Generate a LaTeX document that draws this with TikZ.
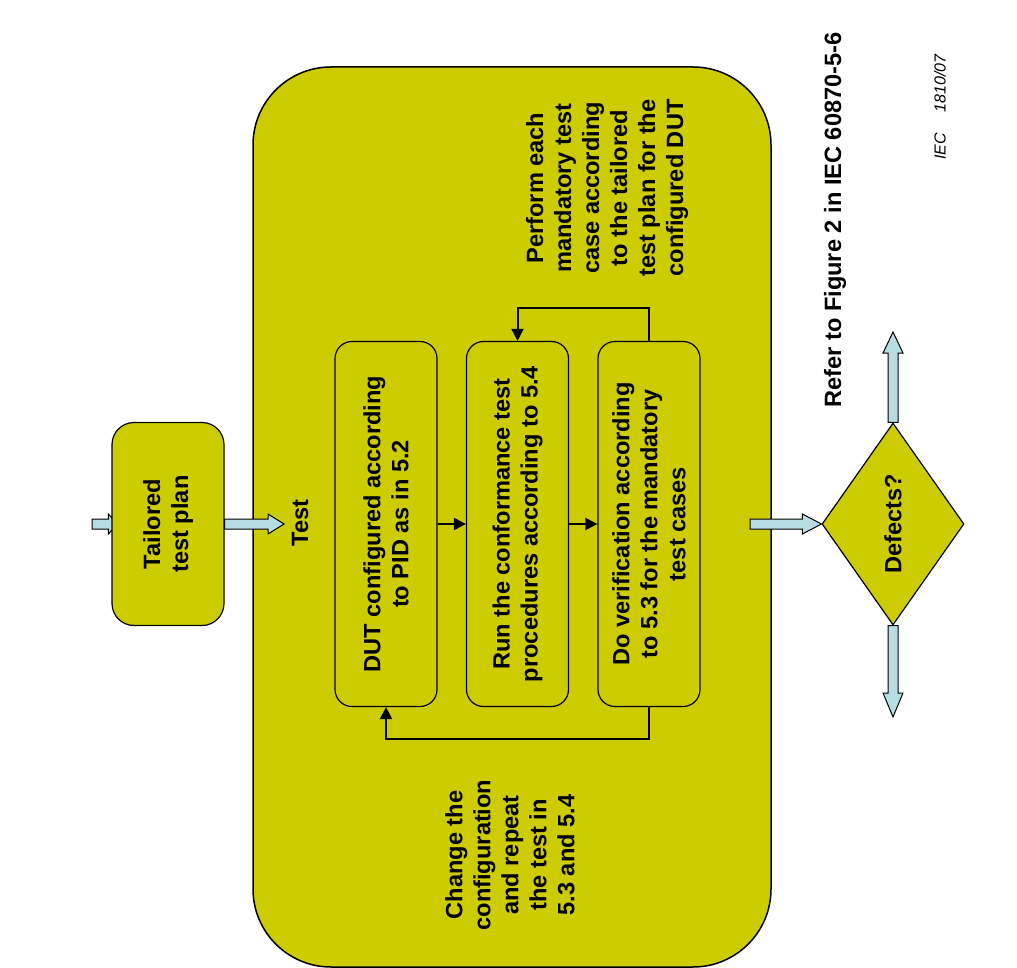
\documentclass[tikz,border=0pt]{standalone}
\usepackage{fontspec}
\setmainfont{Liberation Sans}
\usetikzlibrary{shapes.geometric, arrows.meta, calc, backgrounds}

\definecolor{testolive}{RGB}{204,204,0}
\definecolor{arrowblue}{RGB}{183,221,227}
\newcommand{\diagfont}{\fontsize{23.6}{28}\selectfont\bfseries}

\tikzset{
  bigbox/.style={draw, line width=1.5pt, fill=testolive, rounded corners=78pt},
  stepbox/.style={draw, line width=1.2pt, fill=testolive, rounded corners=17pt, rotate=90,
    align=center, font=\diagfont, minimum width=365pt, minimum height=102pt},
  vtext/.style={rotate=90, align=center, font=\diagfont},
  blockarrow/.style={draw=black, line width=1pt, fill=arrowblue},
  flow/.style={line width=2pt, -{Triangle[length=12pt,width=12pt]}},
}

% wide light blue arrow: start, end, head length
\newcommand{\blockarrow}[3]{%
  \path let \p1=#1, \p2=#2,
    \n1={atan2((\y2)-(\y1),(\x2)-(\x1))}, \n2={veclen((\x2)-(\x1),(\y2)-(\y1))} in
    \pgfextra{\xdef\bax{\x1}\xdef\bay{\y1}\xdef\baang{\n1}\xdef\balen{\n2}};
  \draw[blockarrow, shift={(\bax,\bay)}, rotate=\baang]
    (0pt,-5pt) -- (\balen-#3pt,-5pt) -- (\balen-#3pt,-10pt) -- (\balen,0pt)
    -- (\balen-#3pt,10pt) -- (\balen-#3pt,5pt) -- (0pt,5pt) -- cycle;}

\begin{document}
\begin{tikzpicture}[x=1pt, y=-1pt]
  \useasboundingbox (0,0) rectangle (1017,968);

  % test frame
  \node[bigbox, minimum width=518pt, minimum height=900pt] (test) at (512,517) {};
  \node[vtext] (testlbl) at (300,523) {Test};

  % input plan
  \node[stepbox, minimum width=203pt, minimum height=112pt, rounded corners=22pt] (plan) at (168,524) {Tailored\\test plan};

  % steps inside the test
  \node[stepbox] (dut) at (386,524) {DUT configured according\\to PID as in 5.2};
  \node[stepbox] (run) at (517.5,524) {Run the conformance test\\procedures according to 5.4};
  \node[stepbox] (verif) at (649,524) {Do verification according\\to 5.3 for the mandatory\\test cases};

  \node[vtext] (perform) at (607,188) {Perform each\\mandatory test\\case according\\to the tailored\\test plan for the\\configured DUT};
  \node[vtext] (change) at (510,855) {Change the\\configuration\\and repeat\\the test in\\5.3 and 5.4};

  % decision
  \node[diamond, draw, line width=1.2pt, fill=testolive, rotate=90, inner sep=0pt,
    minimum width=202pt, minimum height=142pt, font=\diagfont] (defects) at (893,524) {Defects?};

  \node[vtext] (refer) at (835,220) {Refer to Figure 2 in IEC 60870-5-6};
  \node[rotate=90, font=\fontsize{16}{19}\selectfont\itshape] (ieclbl) at (940,107) {IEC\hspace{21pt}1810/07};

  % step flow
  \draw[flow] (dut) -- (run);
  \draw[flow] (run) -- (verif);
  \draw[flow] (verif.east) -- ++(0,-33) -| (run.east);
  \draw[flow] (verif.west) -- ++(0,32) -| (dut.west);

  % block arrows
  \coordinate (planin) at (92,524);
  \coordinate (testin) at (284,524);
  \coordinate (defin) at (750,524);
  \coordinate (yesout) at (893,332);
  \coordinate (noout) at (893,717);
  \begin{scope}[on background layer]
    \blockarrow{(planin)}{([xshift=6pt]plan.north)}{9}
  \end{scope}
  \blockarrow{(plan.south)}{(testin)}{16}
  \blockarrow{(defin)}{(defects.north)}{19}
  \blockarrow{(defects.east)}{(yesout)}{21}
  \blockarrow{(defects.west)}{(noout)}{24}
\end{tikzpicture}
\end{document}
